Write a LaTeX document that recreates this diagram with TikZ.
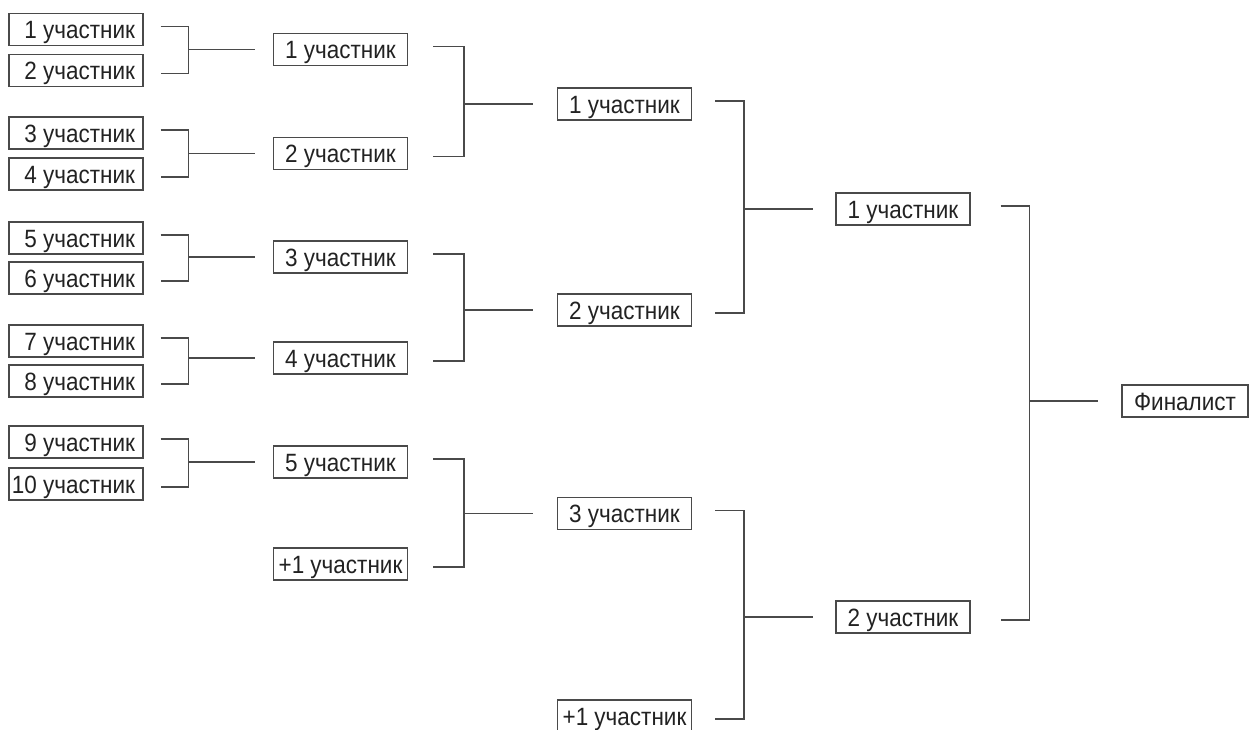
\documentclass[tikz,border=0pt]{standalone}
\usepackage{fontspec}
\setmainfont{Liberation Sans}[FakeStretch=0.9]
\definecolor{txt}{HTML}{222222}
\definecolor{ln}{HTML}{4A4A4A}
\newcommand\rt[1]{\makebox[118pt][r]{#1}}
\tikzset{
  pbox/.style={draw=ln, line width=1.1pt, text=txt, minimum width=134pt, minimum height=32pt,
    inner xsep=0pt, inner ysep=0pt, text height=18pt, text depth=0pt,
    font=\fontsize{25}{28}\selectfont},
  fbox/.style={pbox, minimum width=126pt},
  conn/.style={draw=ln, line width=1.3pt}
}
\newcommand\brk[6]{%
  \draw[conn] ([xshift=#4,yshift=3pt]#1.east) -- ([xshift=#5,yshift=3pt]#1.east)
     -- ([xshift=#5,yshift=-3pt]#2.east) -- ([xshift=#4,yshift=-3pt]#2.east);
  \draw[conn] ([xshift=#5]#1.east |- #3.west) -- ([xshift=-#6]#3.west);
}
\begin{document}
\begin{tikzpicture}[x=1pt,y=-1pt]
\useasboundingbox[fill=white] (0,0) rectangle (1249,729);
\clip (0,0) rectangle (1249,729);
% column 1
\node[pbox] (a1) at (76,29.5) {\rt{1 участник}};
\node[pbox] (a2) at (76,70.5) {\rt{2 участник}};
\node[pbox] (a3) at (76,133) {\rt{3 участник}};
\node[pbox] (a4) at (76,174) {\rt{4 участник}};
\node[pbox] (a5) at (76,238) {\rt{5 участник}};
\node[pbox] (a6) at (76,278) {\rt{6 участник}};
\node[pbox] (a7) at (76,341) {\rt{7 участник}};
\node[pbox] (a8) at (76,381) {\rt{8 участник}};
\node[pbox] (a9) at (76,442) {\rt{9 участник}};
\node[pbox] (a10) at (76,484) {\rt{10 участник}};
% column 2
\node[pbox] (b1) at (340.5,49.5) {1 участник};
\node[pbox] (b2) at (340.5,153.5) {2 участник};
\node[pbox] (b3) at (340.5,257) {3 участник};
\node[pbox] (b4) at (340.5,358) {4 участник};
\node[pbox] (b5) at (340.5,462) {5 участник};
\node[pbox] (b6) at (340.5,564) {+1 участник};
% column 3
\node[pbox] (c1) at (624.5,104) {1 участник};
\node[pbox] (c2) at (624.5,310) {2 участник};
\node[pbox] (c3) at (624.5,513.5) {3 участник};
\node[pbox] (c4) at (624.5,716) {+1 участник};
% column 4
\node[pbox] (d1) at (903,209) {1 участник};
\node[pbox] (d2) at (903,617) {2 участник};
% final
\node[fbox] (f) at (1185,401) {Финалист};
% brackets
\brk{a1}{a2}{b1}{17pt}{45pt}{18pt}
\brk{a3}{a4}{b2}{17pt}{45pt}{18pt}
\brk{a5}{a6}{b3}{17pt}{45pt}{18pt}
\brk{a7}{a8}{b4}{17pt}{45pt}{18pt}
\brk{a9}{a10}{b5}{17pt}{45pt}{18pt}
\brk{b1}{b2}{c1}{25pt}{56pt}{24pt}
\brk{b3}{b4}{c2}{25pt}{56pt}{24pt}
\brk{b5}{b6}{c3}{25pt}{56pt}{24pt}
\brk{c1}{c2}{d1}{23pt}{52pt}{22pt}
\brk{c3}{c4}{d2}{23pt}{52pt}{22pt}
\brk{d1}{d2}{f}{30pt}{59pt}{23pt}
\end{tikzpicture}
\end{document}
